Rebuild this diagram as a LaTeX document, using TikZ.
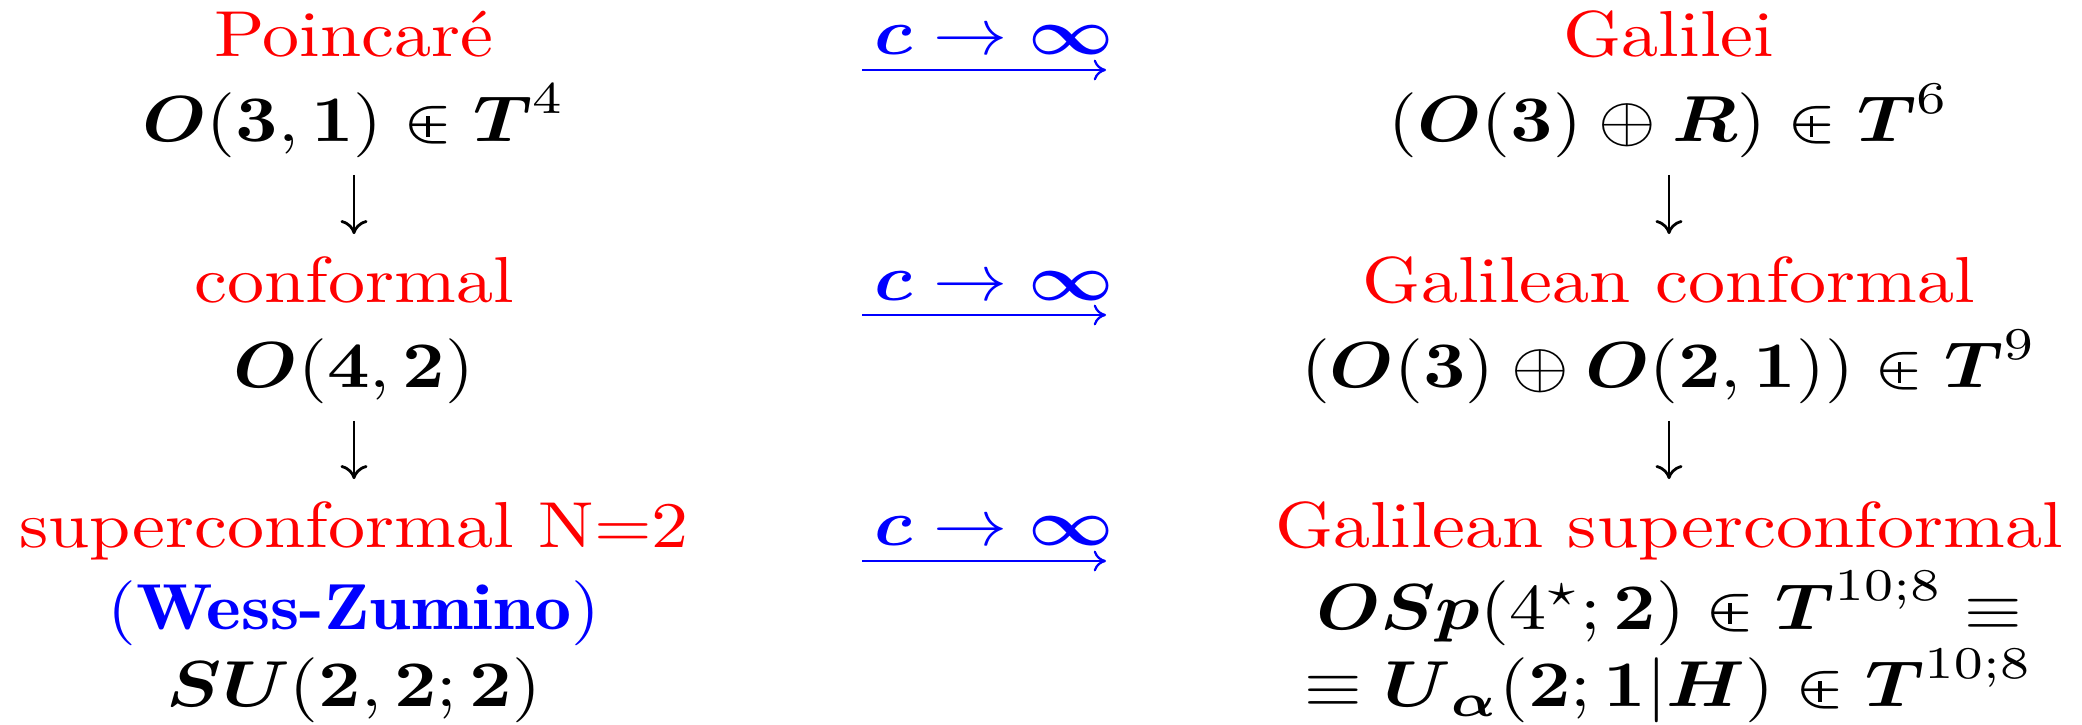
\documentclass[tikz,border=0pt]{standalone}
\usepackage{graphicx}
\usetikzlibrary{arrows.meta}
\definecolor{tred}{RGB}{255,0,0}
\definecolor{tblue}{RGB}{0,0,255}
\newcommand{\hs}[1]{\scalebox{2.28}[2]{#1}}
\newcommand{\B}[1]{\mbox{\boldmath$#1$}}
\newcommand{\Bs}[1]{\mbox{\boldmath$\scriptstyle #1$}}
\newcommand{\sdp}{\mathrel{\ooalign{$\in$\cr\hidewidth\rule[0.075em]{0.045em}{0.32em}\hidewidth\cr}}}
\tikzset{
  lbl/.style={inner sep=0pt, anchor=base, font=\fontsize{10}{12}\selectfont},
  ttl/.style={lbl, text=tred},
  mth/.style={lbl, text=black},
  lim/.style={lbl, text=tblue},
  varr/.style={line width=0.85pt, -{Computer Modern Rightarrow[length=4.3pt, width=8.3pt]}},
  harr/.style={draw=tblue, line width=0.7pt, -{Computer Modern Rightarrow[length=3.8pt, width=6.4pt]}}
}
\begin{document}
\begin{tikzpicture}[x=0.30769pt, y=-0.30769pt]
\useasboundingbox (0,0) rectangle (2082,725);
% left column
\node[ttl] (poin) at (354,57) {\hs{Poincaré}};
\node[mth] (o31) at (354,142) {\hs{$\B{O}(\B{3},\B{1})\sdp \B{T}^4$}};
\node[ttl] (conf) at (354,303) {\hs{conformal}};
\node[mth] (o42) at (354,388) {\hs{$\B{O}(\B{4},\B{2})$}};
\node[ttl] (sconf) at (354,548) {\hs{superconformal N=2}};
\node[lbl, text=tblue] (wz) at (354,629) {\hs{({\fontseries{b}\selectfont Wess-Zumino})}};
\node[mth] (su) at (354,707) {\hs{$\B{SU}(\B{2},\B{2};\B{2})$}};
% right column
\node[ttl] (gal) at (1669,57) {\hs{Galilei}};
\node[mth] (o3r) at (1669,142) {\hs{$(\B{O}(\B{3})\oplus \B{R})\sdp \B{T}^6$}};
\node[ttl] (gconf) at (1669,303) {\hs{Galilean conformal}};
\node[mth] (o3o21) at (1669,388) {\hs{$(\B{O}(\B{3})\oplus \B{O}(\B{2},\B{1}))\sdp \B{T}^9$}};
\node[ttl] (gsconf) at (1669,548) {\hs{Galilean superconformal}};
\node[mth] (osp) at (1669,629) {\hs{$\B{OSp}(4^\star;\B{2})\sdp \B{T}^{10;8}\equiv$}};
\node[mth] (ua) at (1669,707) {\hs{$\equiv \B{U}_{\Bs{\alpha}}(\B{2};\B{1}|\B{H})\sdp \B{T}^{10;8}$}};
% vertical arrows
\draw[varr, shorten <=10.15pt, shorten >=21.2pt] (o31.base) -- (conf.base);
\draw[varr, shorten <=10.15pt, shorten >=21.2pt] (o42.base) -- (sconf.base);
\draw[varr, shorten <=10.15pt, shorten >=21.2pt] (o3r.base) -- (gconf.base);
\draw[varr, shorten <=10.15pt, shorten >=21.2pt] (o3o21.base) -- (gsconf.base);
% limits
\node[lim] (l1) at (994,55) {\hs{$\B{c}\to\B{\infty}$}};
\node[lim] (l2) at (994,301) {\hs{$\B{c}\to\B{\infty}$}};
\node[lim] (l3) at (994,546) {\hs{$\B{c}\to\B{\infty}$}};
\coordinate (a1s) at (862,70); \coordinate (a1e) at (1106,70);
\coordinate (a2s) at (862,315); \coordinate (a2e) at (1106,315);
\coordinate (a3s) at (862,561); \coordinate (a3e) at (1106,561);
\draw[harr] (a1s) -- (a1e);
\draw[harr] (a2s) -- (a2e);
\draw[harr] (a3s) -- (a3e);
\end{tikzpicture}
\end{document}
